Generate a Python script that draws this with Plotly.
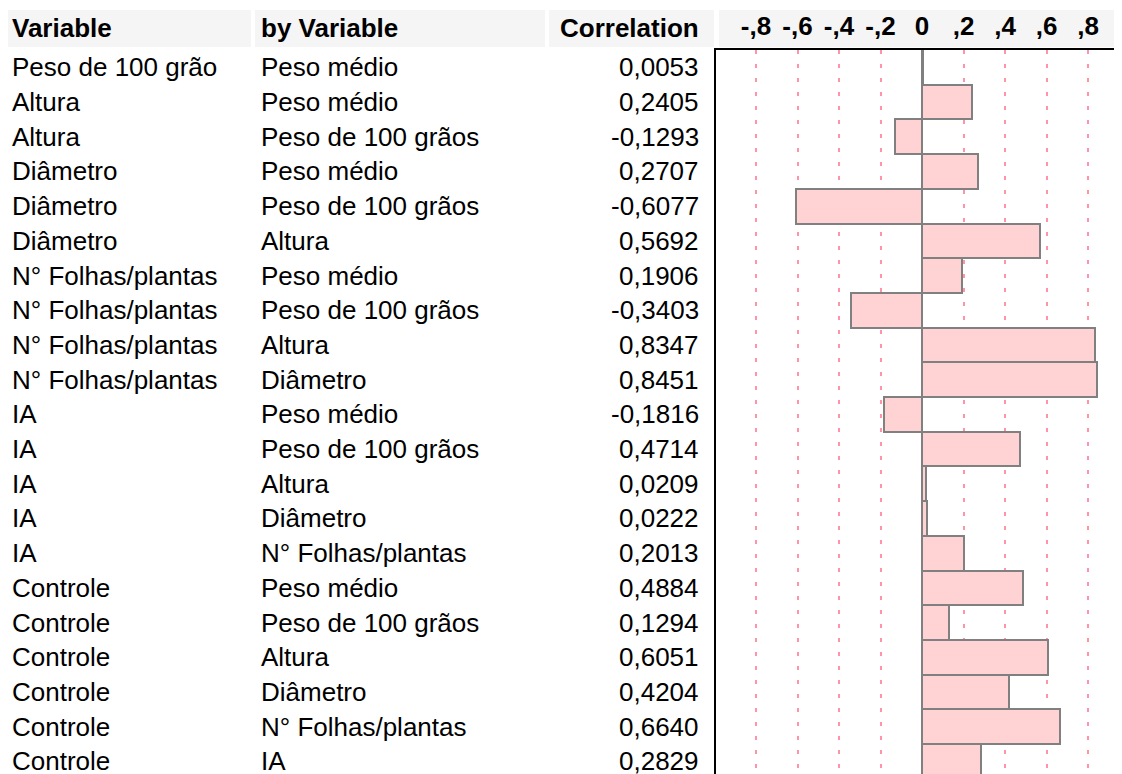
import plotly.graph_objects as go

# page body has an 8px margin in the browser; lay out in reference pixels and shift
OFF = 8
W, H = 1122 - OFF, 774 - OFF

variables = ["Peso de 100 grão", "Altura", "Altura", "Diâmetro", "Diâmetro", "Diâmetro",
             "N° Folhas/plantas", "N° Folhas/plantas", "N° Folhas/plantas", "N° Folhas/plantas",
             "IA", "IA", "IA", "IA", "IA",
             "Controle", "Controle", "Controle", "Controle", "Controle", "Controle"]
by_variables = ["Peso médio", "Peso médio", "Peso de 100 grãos", "Peso médio", "Peso de 100 grãos",
                "Altura", "Peso médio", "Peso de 100 grãos", "Altura", "Diâmetro",
                "Peso médio", "Peso de 100 grãos", "Altura", "Diâmetro", "N° Folhas/plantas",
                "Peso médio", "Peso de 100 grãos", "Altura", "Diâmetro", "N° Folhas/plantas", "IA"]
correlations = [0.0053, 0.2405, -0.1293, 0.2707, -0.6077, 0.5692, 0.1906, -0.3403, 0.8347,
                0.8451, -0.1816, 0.4714, 0.0209, 0.0222, 0.2013, 0.4884, 0.1294, 0.6051,
                0.4204, 0.6640, 0.2829]
tick_values = [-0.8, -0.6, -0.4, -0.2, 0, 0.2, 0.4, 0.6, 0.8]
tick_labels = ["-,8", "-,6", "-,4", "-,2", "0", ",2", ",4", ",6", ",8"]
headers = ["Variable", "by Variable", "Correlation"]

FONT = "Liberation Sans, Arial, sans-serif"
FS = 26

rows = list(range(len(correlations)))

fig = go.Figure()
fig.add_trace(go.Bar(
    x=correlations, y=rows, orientation="h", width=1,
    marker=dict(color="#ffd3d3", line=dict(color="#808080", width=2)),
    hoverinfo="x", showlegend=False,
))

def px(x):
    return (x - OFF) / W

def py(y):
    return 1 - (y - OFF) / H

annotations = []
for text, x, anchor in zip(headers, [10, 259, 701], ["left", "left", "right"]):
    annotations.append(dict(text=f"<b>{text}</b>", x=px(x), y=py(28), xref="paper", yref="paper",
                            xanchor=anchor, yanchor="middle", showarrow=False))

for i, (v, b, c) in enumerate(zip(variables, by_variables, correlations)):
    annotations.append(dict(text=v, x=px(10), y=i, xref="paper", yref="y",
                            xanchor="left", yanchor="middle", showarrow=False))
    annotations.append(dict(text=b, x=px(259), y=i, xref="paper", yref="y",
                            xanchor="left", yanchor="middle", showarrow=False))
    annotations.append(dict(text=f"{c:.4f}".replace(".", ","), x=px(701), y=i, xref="paper", yref="y",
                            xanchor="right", yanchor="middle", showarrow=False))

shapes = []
for x0, x1 in [(7, 251), (255, 545), (549, 714), (719, 1122)]:
    shapes.append(dict(type="rect", xref="paper", yref="paper", x0=px(x0), x1=px(x1),
                       y0=py(47), y1=py(10), fillcolor="#f5f5f5", line=dict(width=0), layer="below"))

zero_px = 922
unit_px = 207.5
left_px = 716
x_lo = (left_px - zero_px) / unit_px
x_hi = (1122 - zero_px) / unit_px
top_px = 50
row_h = 34.7
y_bottom = -0.5 + (774 - top_px) / row_h

fig.update_layout(
    width=W, height=H,
    margin=dict(l=0, r=0, t=0, b=0),
    paper_bgcolor="white", plot_bgcolor="white",
    font=dict(family=FONT, size=FS, color="black"),
    annotations=annotations,
    shapes=shapes,
    bargap=0,
    xaxis=dict(
        domain=[px(left_px), 1], range=[x_lo, x_hi], side="top",
        tickvals=tick_values, ticktext=tick_labels,
        tickfont=dict(family=FONT, size=FS, color="black", weight="bold"),
        ticks="", ticklabelstandoff=3,
        showgrid=True, gridcolor="#ff94a8", gridwidth=2, griddash="4px,10px",
        zeroline=True, zerolinecolor="#808080", zerolinewidth=2,
        showline=True, linecolor="black", linewidth=2,
        fixedrange=True,
    ),
    yaxis=dict(
        domain=[0, py(top_px)], range=[y_bottom, -0.5],
        showticklabels=False, ticks="", showgrid=False, zeroline=False,
        showline=True, linecolor="black", linewidth=2,
        fixedrange=True,
    ),
)

fig.write_html("out.html")
